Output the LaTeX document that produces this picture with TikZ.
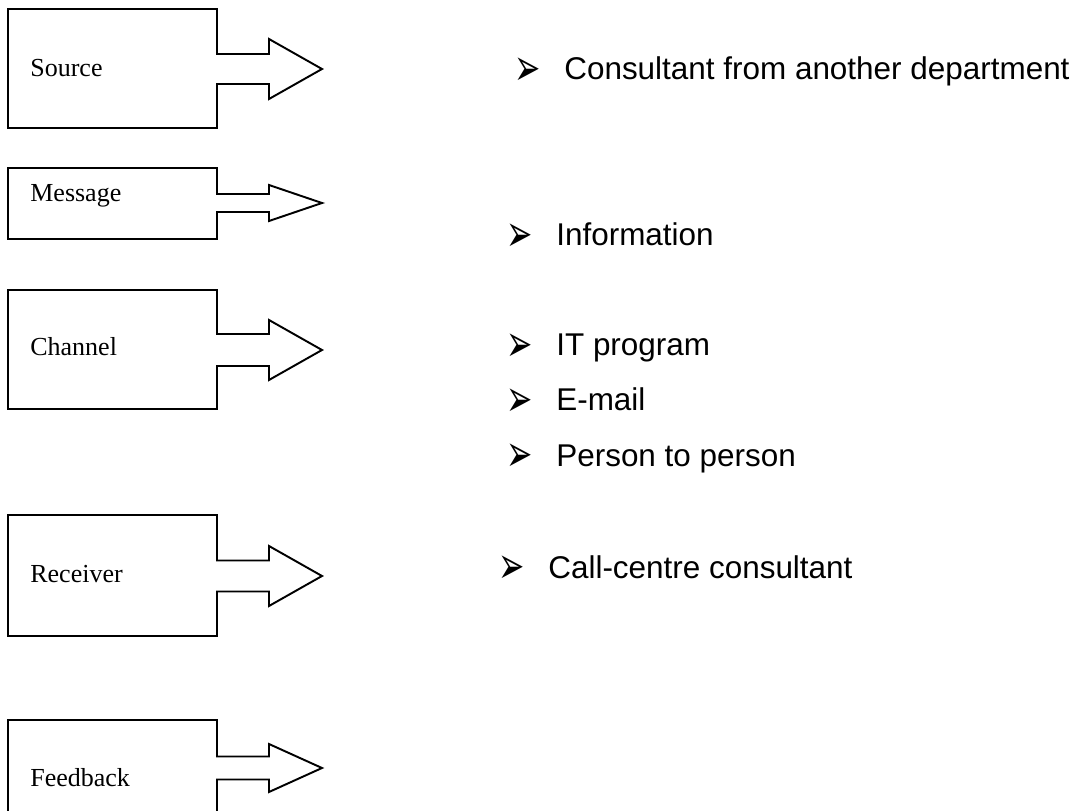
\documentclass[tikz,border=0pt]{standalone}
\usepackage{fontspec}
\usepackage{graphicx}
\setmainfont{Liberation Serif}
\newfontfamily\arialfont{Liberation Sans}
\newfontfamily\dingfont{DejaVu Sans}
\usetikzlibrary{calc}
\tikzset{
  calloutline/.style={draw=black, line width=1.1pt, line join=miter, fill=white},
  boxlabel/.style={font=\fontsize{14.8}{17}\selectfont, anchor=base west, inner sep=0pt},
  itemtext/.style={font=\arialfont\fontsize{17.9}{21}\selectfont, anchor=base west, inner sep=0pt},
}
% list bullet, stretched to cap height
\newcommand{\itembullet}{\makebox[0.94cm][l]{\hspace*{-0.06cm}%
  \raisebox{-3.4pt}{\scalebox{1}[1.65]{\dingfont\char"27A2}}}}

\begin{document}
\begin{tikzpicture}[x=0.02cm, y=-0.02cm]

  \useasboundingbox (0,0) rectangle (1080,811);

  % \callout{top}{bottom}{tip y}{shaft half}{head half}{name}{label}{baseline}
  \newcommand{\callout}[8]{%
    \draw[calloutline] (8,#1) -- (217,#1) -- (217,{#3-#4}) -- (269,{#3-#4})
      -- (269,{#3-#5}) -- (322,#3) -- (269,{#3+#5}) -- (269,{#3+#4})
      -- (217,{#3+#4}) -- (217,#2) -- (8,#2) -- cycle;
    \node[boxlabel] (#6) at (30,#8) {#7};
  }

  \callout{9}{128}{69}{15}{30}{source}{Source}{77}
  \callout{168}{239}{203}{9}{18}{message}{Message}{202}
  \callout{290}{409}{350}{16}{30}{channel}{Channel}{356}
  \callout{515}{636}{576}{15.5}{30}{receiver}{Receiver}{582}
  \callout{720}{840}{768}{11.5}{24}{feedback}{Feedback}{786}

  % bullet lists on the right
  \node[itemtext] (consultant) at (517,80)  {\itembullet Consultant from another department};
  \node[itemtext] (information) at (509,246) {\itembullet Information};
  \node[itemtext] (itprog) at (509,356) {\itembullet IT program};
  \node[itemtext] (email)  at (509,411) {\itembullet E-mail};
  \node[itemtext] (person) at (509,466) {\itembullet Person to person};
  \node[itemtext] (callcentre) at (501,578) {\itembullet Call-centre consultant};

\end{tikzpicture}
\end{document}
